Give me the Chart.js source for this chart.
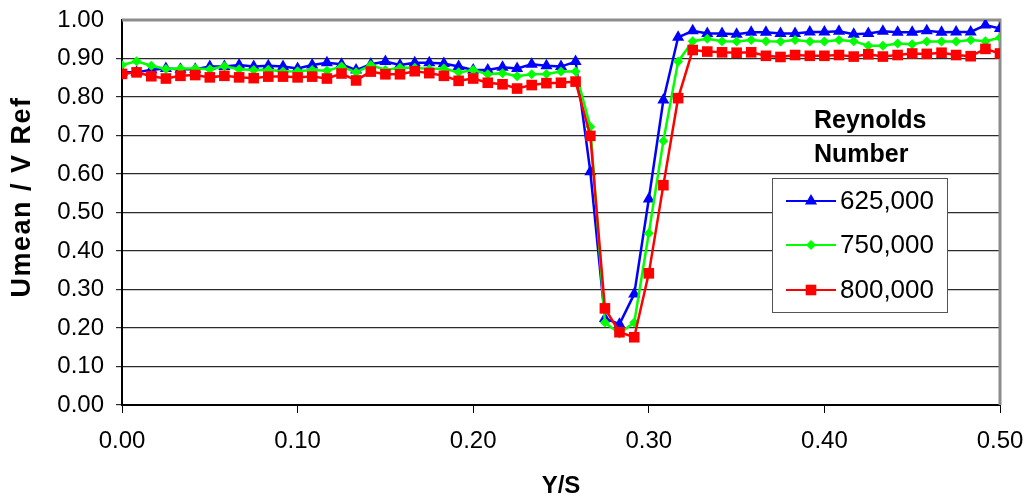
<!DOCTYPE html>
<html><head><meta charset="utf-8">
<script src="https://cdn.jsdelivr.net/npm/chart.js@4/dist/chart.umd.min.js"></script>
<style>html,body{margin:0;padding:0;background:#fff}#wrap{width:1029px;height:503px;position:relative}</style>
</head><body><div id="wrap"><canvas id="c"></canvas></div>
<script>
const xValues = [0.0000,0.0083,0.0167,0.0250,0.0333,0.0417,0.0500,0.0583,0.0667,0.0750,0.0833,
0.0917,0.1000,0.1083,0.1167,0.1250,0.1333,0.1417,0.1500,0.1583,0.1667,
0.1750,0.1833,0.1917,0.2000,0.2083,0.2167,0.2250,0.2333,0.2417,0.2500,0.2583,
0.2667,0.2750,0.2833,0.2917,0.3000,0.3083,0.3167,0.3250,
0.3333,0.3417,0.3500,0.3583,0.3667,0.3750,0.3833,0.3917,0.4000,0.4083,
0.4167,0.4250,0.4333,0.4417,0.4500,0.4583,0.4667,0.4750,0.4833,0.4917,0.5000];
const re625 = [0.864,0.864,0.871,0.874,0.872,0.872,0.879,0.879,0.883,0.879,0.881,
0.879,0.874,0.883,0.889,0.885,0.870,0.885,0.892,0.883,0.889,
0.889,0.887,0.879,0.870,0.870,0.877,0.874,0.885,0.881,0.879,0.892,
0.606,0.225,0.210,0.288,0.535,0.792,0.955,0.972,
0.965,0.965,0.963,0.968,0.968,0.965,0.965,0.969,0.969,0.971,
0.963,0.965,0.971,0.968,0.968,0.972,0.968,0.969,0.969,0.987,0.978];
const re750 = [0.883,0.893,0.881,0.873,0.874,0.874,0.872,0.880,0.872,0.870,0.871,
0.866,0.867,0.870,0.868,0.879,0.864,0.883,0.870,0.876,0.876,
0.873,0.874,0.864,0.870,0.859,0.862,0.854,0.859,0.860,0.866,0.866,
0.723,0.214,0.186,0.214,0.446,0.686,0.892,0.945,
0.951,0.945,0.944,0.948,0.945,0.944,0.948,0.944,0.944,0.948,
0.945,0.933,0.933,0.939,0.937,0.944,0.944,0.944,0.948,0.945,0.954];
const re800 = [0.860,0.864,0.854,0.848,0.855,0.857,0.851,0.855,0.851,0.849,0.853,
0.853,0.851,0.853,0.848,0.861,0.843,0.866,0.859,0.859,0.867,
0.862,0.855,0.842,0.848,0.837,0.833,0.822,0.831,0.836,0.837,0.840,
0.699,0.251,0.189,0.176,0.342,0.571,0.797,0.922,
0.918,0.916,0.915,0.916,0.907,0.904,0.909,0.907,0.907,0.909,
0.905,0.911,0.905,0.909,0.913,0.912,0.915,0.909,0.906,0.925,0.913];
const seriesLabels = ['625,000','750,000','800,000'];
const legendTitle = ['Reynolds','Number'];
const xTitle = 'Y/S';
const yTitle = 'Umean / V Ref';

const FONT = "'Liberation Sans', Arial, sans-serif";
const pts = arr => arr.map((v,i)=>({x:xValues[i], y:v}));

const styles = [
  {color:'#0000ff', style:'triangle', r:7},
  {color:'#00ff00', style:'rectRot', r:5},
  {color:'#ff0000', style:'rect', r:7.5}
];

const frame = {
  id:'frame',
  beforeDatasetsDraw(chart){
    const {ctx, chartArea:a} = chart;
    ctx.save();
    ctx.strokeStyle = '#8c8c8c';
    ctx.lineWidth = 3;
    ctx.beginPath();
    ctx.moveTo(a.left, a.top); ctx.lineTo(a.right, a.top); ctx.lineTo(a.right, a.bottom);
    ctx.stroke();
    ctx.restore();
  }
};

const yTitlePlugin = {
  id:'yTitlePlugin',
  afterDraw(chart){
    const ctx = chart.ctx;
    ctx.save();
    ctx.translate(23, 197);
    ctx.rotate(-Math.PI/2);
    ctx.font = 'bold 27px ' + FONT;
    ctx.fillStyle = '#000';
    ctx.textAlign = 'center';
    ctx.textBaseline = 'middle';
    if ('letterSpacing' in ctx) ctx.letterSpacing = '1.5px';
    ctx.fillText(yTitle, 0, 0);
    ctx.restore();
  }
};

function drawMarker(ctx, st, x, y){
  ctx.fillStyle = st.color;
  ctx.beginPath();
  const r = st.r;
  if (st.style==='triangle'){
    ctx.moveTo(x, y - r);
    ctx.lineTo(x + r*Math.sin(2*Math.PI/3), y - r*Math.cos(2*Math.PI/3));
    ctx.lineTo(x - r*Math.sin(2*Math.PI/3), y - r*Math.cos(2*Math.PI/3));
  } else if (st.style==='rectRot'){
    ctx.moveTo(x - r, y); ctx.lineTo(x, y - r); ctx.lineTo(x + r, y); ctx.lineTo(x, y + r);
  } else {
    const s = Math.SQRT1_2*r;
    ctx.rect(x - s, y - s, 2*s, 2*s);
  }
  ctx.closePath();
  ctx.fill();
}

const legendBox = {
  id:'legendBox',
  afterDatasetsDraw(chart){
    const ctx = chart.ctx;
    ctx.save();
    ctx.fillStyle = '#000';
    ctx.font = 'bold 25px ' + FONT;
    ctx.textAlign = 'left';
    ctx.textBaseline = 'middle';
    ctx.fillText(legendTitle[0], 814, 121);
    ctx.fillText(legendTitle[1], 814, 155);
    const bx = 772, by = 178, bw = 175, bh = 134;
    ctx.fillStyle = '#fff';
    ctx.fillRect(bx, by, bw, bh);
    ctx.strokeStyle = '#555';
    ctx.lineWidth = 1;
    ctx.strokeRect(bx+0.5, by+0.5, bw, bh);
    const ys = [201, 245, 290];
    ctx.font = '26px ' + FONT;
    chart.data.datasets.forEach((ds, i) => {
      const st = styles[i];
      const y = ys[i];
      ctx.strokeStyle = st.color;
      ctx.lineWidth = 2;
      ctx.beginPath(); ctx.moveTo(786, y); ctx.lineTo(836, y); ctx.stroke();
      drawMarker(ctx, st, 811, y);
      ctx.fillStyle = '#000';
      ctx.fillText(ds.label, 840, y + 1);
    });
    ctx.restore();
  }
};

const datasets = [re625, re750, re800].map((arr, i) => ({
  label: seriesLabels[i],
  data: pts(arr),
  borderColor: styles[i].color,
  backgroundColor: styles[i].color,
  borderWidth: 2.5,
  pointStyle: styles[i].style,
  pointRadius: styles[i].r,
  pointBorderWidth: 0,
  pointHoverRadius: styles[i].r,
  order: 2 - i,
  tension: 0,
  showLine: true
}));

new Chart(document.getElementById('c'), {
  type: 'scatter',
  data: { datasets },
  options: {
    responsive: true,
    maintainAspectRatio: false,
    animation: false,
    events: [],
    layout: { padding: { top: 20, right: 29, left: 0, bottom: 0 } },
    plugins: { legend: { display: false }, tooltip: { enabled: false } },
    scales: {
      x: {
        type: 'linear', min: 0, max: 0.5,
        afterFit: s => { s.height = 98; s.paddingLeft = 0; s.paddingRight = 0; },
        ticks: { stepSize: 0.1, color: '#000', padding: 14, font: { family: FONT, size: 24 },
          callback: v => v.toFixed(2) },
        grid: { drawOnChartArea: false, drawTicks: true, tickLength: 8, color: '#000' },
        border: { display: true, color: '#000', width: 2 },
        title: { display: true, text: xTitle, color: '#000', font: { family: FONT, size: 24, weight: 'bold' }, padding: { top: 0, bottom: 2 } }
      },
      y: {
        min: 0, max: 1,
        afterFit: s => { s.width = 122; s.paddingTop = 0; s.paddingBottom = 0; },
        ticks: { stepSize: 0.1, color: '#000', padding: 12, font: { family: FONT, size: 24 },
          callback: v => v.toFixed(2) },
        grid: { drawTicks: true, tickLength: 6, color: ctx => ctx.tick && ctx.tick.value === 1 ? 'rgba(0,0,0,0)' : '#2b2b2b', lineWidth: 1.2 },
        border: { display: true, color: '#000', width: 2 },
        title: { display: false }
      }
    }
  },
  plugins: [frame, legendBox, yTitlePlugin]
});
</script></body></html>
